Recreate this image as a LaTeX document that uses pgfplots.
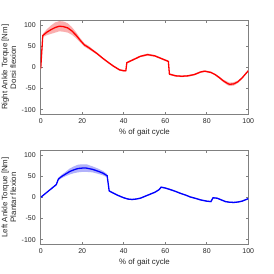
\documentclass[border=0pt]{standalone}
\usepackage{pgfplots}
\usepackage{pgfplotstable}
\pgfplotsset{compat=1.18}
\usepgfplotslibrary{fillbetween}
\usepackage{fontspec}
\setmainfont{Liberation Sans}
\definecolor{axgray}{gray}{0.5}
\definecolor{txtgray}{gray}{0.15}
\definecolor{bandred}{RGB}{250,175,175}
\definecolor{bandblue}{RGB}{178,178,250}
\begin{document}
\begin{tikzpicture}[x=1bp,y=1bp]
\pgfplotsset{
  myax/.style={
    scale only axis, width=207.6bp, height=93.3bp,
    xmin=0, xmax=100, ymin=-110, ymax=110,
    xtick={0,20,40,60,80,100}, ytick={-100,-50,0,50,100},
    tick align=inside, major tick length=2bp,
    axis line style={axgray, line width=0.6bp},
    every tick/.style={axgray, line width=0.6bp},
    tick label style={font=\fontsize{7}{8}\selectfont, text=txtgray},
    /pgf/number format/assume math mode=true,
    yticklabel style={xshift=-1.5bp},
    xticklabel style={yshift=-1bp},
    label style={font=\fontsize{7.9}{8.6}\selectfont, text=txtgray},
    xlabel={\% of gait cycle},
    xlabel style={at={(axis description cs:0.5,0)}, yshift=-18bp, anchor=center},
    ylabel style={at={(axis description cs:-0.153,0.5)}, anchor=center, align=center},
    axis background/.style={fill=white},
  }
}
\pgfplotstableread{
x y e
0 -3 2
1 75 4
3 83 7
5 89 10
7 94 12
9 97 12
11 96 12
13 93 11
15 86 9
17 76 7
19 64 5
21 53 4
23 47 4
25 40 3
27 33 2.5
30 21 2
33 10 2
35 3 2
38 -6 2
40 -8 2
41 -8 2
41.5 11 2
45 19 2
48 26 2
51.5 30 2.5
55 27 2
58 21 2
61.5 14 2
62 -16 2
65 -20 2
68 -21 2
71 -20 2
74 -17 2
77 -11 2
79 -9 2
82 -12 2
84 -17 2
86 -24 2.5
88 -32 3
90 -38 4
91 -40 4
93 -39 4
95 -34 3
97 -25 2
100 -8 2
}\righttab
\pgfplotstableread{
x y e
0 0 1
3 12 1
6 24 1.5
7.5 30 2
8.5 43 3
10 49 4
12 55 5
14 61 7
16 65 8
18 68 9
20 69 9
22 69 9
25 66 7
28 61 6
30 57 5
32 51 4
33 15 2
35 10 1.5
37 5 1.5
40 -1 1.5
42 -4 1.5
44 -5 1.5
46 -4 1.5
48 -2 1.5
50 2 1.5
52 6 1.5
55 12 1.5
57 18 1.5
58 24 1.5
60 22 1.5
62 19 1.5
65 14 1.5
67 10 1.5
70 5 1.5
72 1 1.5
75 -3 1.5
77 -6 1.5
80 -9 1.5
82 -10 1.5
83 -1 1.5
85 -2 1.5
87 -6 1.5
89 -10 1.5
91 -11.5 1.5
93 -12 1.5
95 -11 1.5
97 -9 1.5
100 -3 1.5
}\lefttab

\begin{axis}[myax, at={(40.7bp,160bp)}, anchor=south west,
  ylabel={Right Ankle Torque [Nm]\\Dorsi flexion}]
\addplot[draw=none, name path=ru, forget plot] table[x=x, y expr=\thisrow{y}+\thisrow{e}] {\righttab};
\addplot[draw=none, name path=rl, forget plot] table[x=x, y expr=\thisrow{y}-\thisrow{e}] {\righttab};
\addplot[bandred, draw=none] fill between[of=ru and rl];
\addplot[red, line width=1.3bp] table[x=x, y=y] {\righttab};
\end{axis}

\begin{axis}[myax, at={(40.7bp,30bp)}, anchor=south west,
  ylabel={Left Ankle Torque [Nm]\\Plantar flexion}]
\addplot[draw=none, name path=lu, forget plot] table[x=x, y expr=\thisrow{y}+\thisrow{e}] {\lefttab};
\addplot[draw=none, name path=ll, forget plot] table[x=x, y expr=\thisrow{y}-\thisrow{e}] {\lefttab};
\addplot[bandblue, draw=none] fill between[of=lu and ll];
\addplot[blue, line width=1.3bp] table[x=x, y=y] {\lefttab};
\end{axis}
\pgfresetboundingbox
\path[use as bounding box] (0,0) rectangle (274bp,274bp);
\end{tikzpicture}
\end{document}
